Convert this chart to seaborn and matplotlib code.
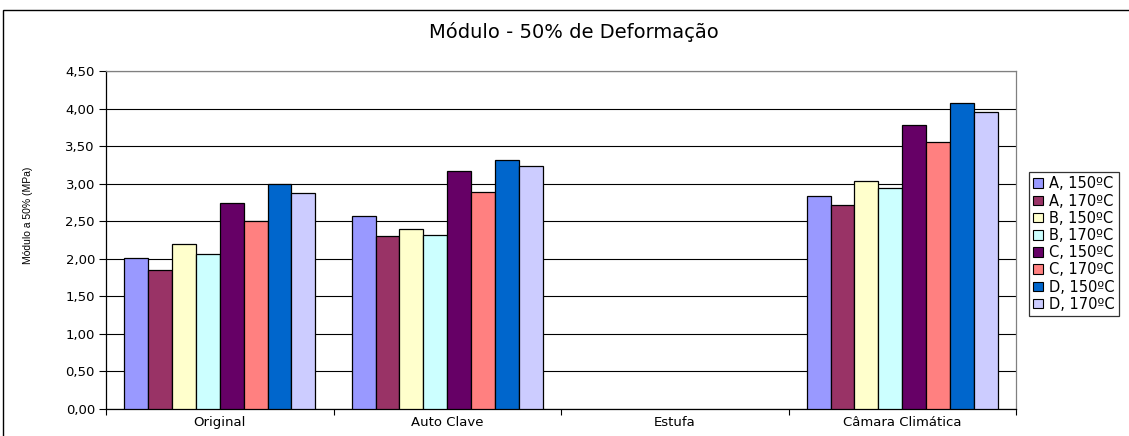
import numpy as np
import pandas as pd
import matplotlib
matplotlib.use("Agg")
import matplotlib.pyplot as plt
from matplotlib.patches import Rectangle
from matplotlib.ticker import FuncFormatter, MultipleLocator
import seaborn as sns

# Categories and series
categories = ["Original", "Auto Clave", "Estufa", "Câmara Climática"]
series = ["A, 150ºC", "A, 170ºC", "B, 150ºC", "B, 170ºC",
          "C, 150ºC", "C, 170ºC", "D, 150ºC", "D, 170ºC"]

# Modulus at 50 % strain (MPa) per series, in category order (Estufa has no data)
a150 = [2.01, 2.57, np.nan, 2.83]
a170 = [1.85, 2.30, np.nan, 2.72]
b150 = [2.20, 2.39, np.nan, 3.03]
b170 = [2.07, 2.31, np.nan, 2.94]
c150 = [2.74, 3.17, np.nan, 3.78]
c170 = [2.50, 2.89, np.nan, 3.56]
d150 = [3.00, 3.32, np.nan, 4.07]
d170 = [2.87, 3.24, np.nan, 3.95]

palette = ["#9999FF", "#993366", "#FFFFCC", "#CCFFFF",
           "#660066", "#FF8080", "#0066CC", "#CCCCFF"]

values = [a150, a170, b150, b170, c150, c170, d150, d170]
rows = []
for name, vals in zip(series, values):
    for cat, v in zip(categories, vals):
        rows.append({"Ensaio": cat, "Série": name, "Módulo": v})
df = pd.DataFrame(rows)

sns.set_style("white")
plt.rcParams["font.family"] = ["DejaVu Sans"]
plt.rcParams["text.color"] = "black"
plt.rcParams["axes.labelcolor"] = "black"
plt.rcParams["xtick.color"] = "black"
plt.rcParams["ytick.color"] = "black"

W, H = 1129, 436
fig = plt.figure(figsize=(W / 100, H / 100), dpi=100)
ax = fig.add_axes([106 / W, 1 - 409 / H, (1016 - 106) / W, (409 - 71) / H])

sns.barplot(data=df, x="Ensaio", y="Módulo", hue="Série",
            order=categories, hue_order=series, palette=palette,
            width=0.84, gap=0, edgecolor="black", linewidth=0.9,
            saturation=1, errorbar=None, ax=ax, zorder=3)

ax.set_xlim(-0.5, len(categories) - 0.5)
ax.set_ylim(0, 4.5)
ax.yaxis.set_major_locator(MultipleLocator(0.5))
ax.yaxis.set_major_formatter(FuncFormatter(lambda v, p: f"{v:.2f}".replace(".", ",")))
ax.grid(axis="y", color="black", linewidth=0.8, zorder=0)
ax.grid(axis="x", visible=False)

# Category boundary ticks below the x axis
ax.set_xticks(np.arange(-0.5, len(categories) + 0.5, 1.0))
ax.set_xticklabels([])
ax.tick_params(axis="x", which="major", direction="out", length=4, width=0.8,
               color="black", bottom=True)
ax.set_xticks(np.arange(len(categories)), minor=True)
ax.set_xticklabels(categories, minor=True)
ax.tick_params(axis="x", which="minor", length=0, labelsize=9.5, pad=5,
               labelcolor="black")
ax.tick_params(axis="y", direction="out", length=5, width=0.8, color="black",
               left=True, labelsize=9.5, pad=3, labelcolor="black")

for side in ["left", "bottom"]:
    ax.spines[side].set_color("black")
    ax.spines[side].set_linewidth(0.9)
for side in ["top", "right"]:
    ax.spines[side].set_color("#808080")
    ax.spines[side].set_linewidth(0.9)

ax.set_xlabel("")
ax.set_ylabel("Módulo a 50% (MPa)", fontsize=7.5, color="black",
              family=["Liberation Sans Narrow", "Liberation Sans", "DejaVu Sans"])
ax.yaxis.set_label_coords((33 - 106) / 910, (409 - 215) / 338)

fig.text(574 / W, 1 - 32 / H, "Módulo - 50% de Deformação",
         ha="center", va="center", fontsize=14, color="black")

ax.get_legend().remove()
handles = [Rectangle((0, 0), 1, 1, facecolor=c, edgecolor="black", linewidth=0.8)
           for c in palette]
leg = fig.legend(handles, series, loc="upper left",
                 bbox_to_anchor=(1029 / W, 1 - 172 / H),
                 fontsize=10.5, frameon=True, fancybox=False, edgecolor="black",
                 handlelength=0.65, handleheight=0.65, handletextpad=0.45,
                 labelspacing=0.15, borderpad=0.3, borderaxespad=0)
leg.get_frame().set_linewidth(0.9)
for t in leg.get_texts():
    t.set_color("black")

# Outer chart border
fig.add_artist(Rectangle((3 / W, -0.05), 1.2, 1 - 10 / H + 0.05,
                         transform=fig.transFigure, fill=False,
                         edgecolor="black", linewidth=1.0))

fig.savefig("out.png", dpi=100)
